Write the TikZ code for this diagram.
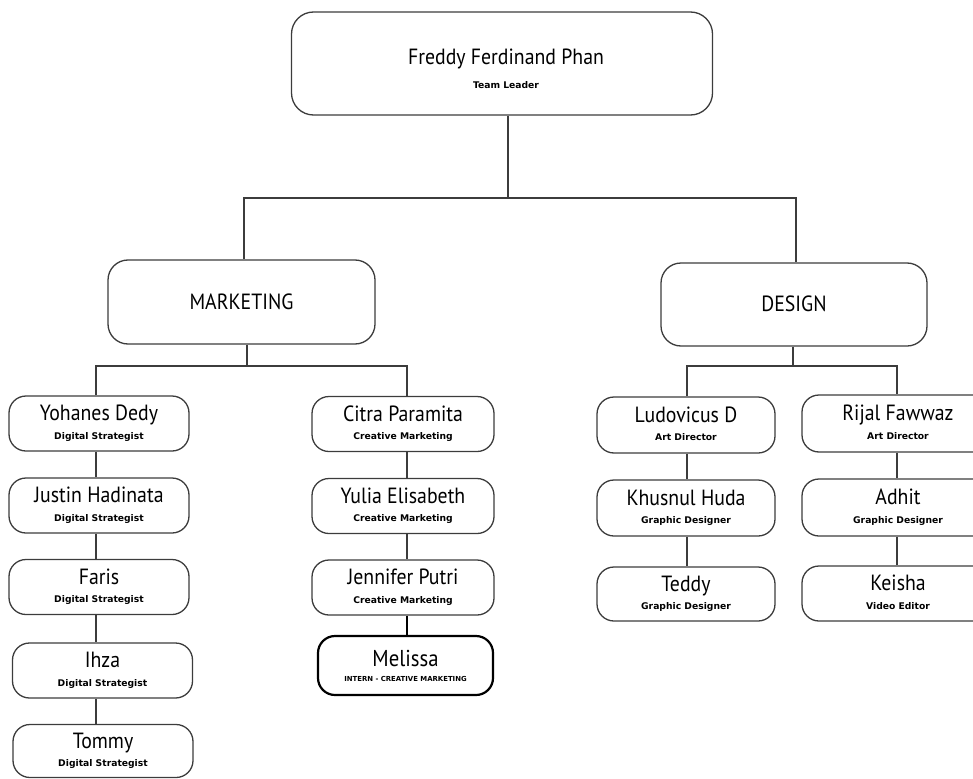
\documentclass[tikz,border=0pt]{standalone}
\usepackage{fontspec}
\setmainfont{PT Sans}[FakeStretch=0.9]
\newfontfamily\rolefont{DejaVu Sans}
\definecolor{linegray}{HTML}{3C3C3C}
\newcommand{\nm}[2][22]{{\fontsize{#1}{#1}\selectfont #2}}
\newcommand{\rl}[2][9.2]{{\rolefont\fontsize{#1}{#1}\selectfont\bfseries #2}}
\newcommand{\hst}[1]{\rule{0pt}{#1pt}}
\newcommand{\dst}[1]{\rule[-#1pt]{0pt}{#1pt}}
% person: name, role (small boxes)
\newcommand{\pp}[2]{\hst{16}\nm{#1}\\\rl{#2}\dst{3.5}}
\begin{document}
\begin{tikzpicture}[x=1pt,y=-1pt,
  box/.style={draw=linegray, line width=1.3pt, rounded corners=17pt, align=center,
    inner sep=0pt, font=\fontsize{10}{18.5}\selectfont},
  pbox/.style={box, minimum width=180pt, minimum height=55pt},
  conn/.style={draw=linegray, line width=1.3pt}]
\useasboundingbox (0,0) rectangle (973,778);
\clip (0,0) rectangle (973,778);
% top
\node[box, minimum width=421pt, minimum height=103pt, rounded corners=22pt,
  font=\fontsize{10}{23.3}\selectfont] (top) at (502,63.5)
  {\hst{29.8}\hspace*{8pt}\nm{Freddy Ferdinand Phan}\\\hspace*{8pt}\rl{Team Leader}\dst{3.5}};
% departments
\node[box, minimum width=267pt, minimum height=84pt, rounded corners=20pt] (mkt) at (241.5,302) {\nm{MARKETING}};
\node[box, minimum width=266pt, minimum height=83pt, rounded corners=20pt] (des) at (794,304.5) {\raisebox{2.5pt}{\nm{DESIGN}}};
% marketing left column
\node[pbox] (yoh) at (99,423.5) {\pp{Yohanes Dedy}{Digital Strategist}};
\node[pbox] (jus) at (99,505.5) {\pp{Justin Hadinata}{Digital Strategist}};
\node[pbox] (far) at (99,587) {\pp{Faris}{Digital Strategist}};
\node[pbox] (ihz) at (102.5,670.5) {\pp{Ihza}{Digital Strategist}};
\node[pbox, minimum height=53pt] (tom) at (103,751) {\pp{Tommy}{Digital Strategist}};
% marketing right column
\node[pbox, minimum width=182pt] (cit) at (403,424) {\pp{Citra Paramita}{Creative Marketing}};
\node[pbox, minimum width=182pt] (yul) at (403,506) {\pp{Yulia Elisabeth}{Creative Marketing}};
\node[pbox, minimum width=182pt] (jen) at (403,587.5) {\pp{Jennifer Putri}{Creative Marketing}};
\node[box, draw=black, line width=2.2pt, minimum width=175pt, minimum height=59pt,
  font=\fontsize{10}{15}\selectfont] (mel) at (405.5,665.5)
  {\hst{19}\nm[23]{Melissa}\\\rl[6.9]{INTERN - CREATIVE MARKETING}\dst{3}};
% design columns
\node[pbox, minimum width=178pt, minimum height=56pt] (lud) at (686,425) {\pp{Ludovicus D}{Art Director}};
\node[pbox, minimum width=178pt, minimum height=56pt] (khu) at (686,508) {\pp{Khusnul Huda}{Graphic Designer}};
\node[pbox, minimum width=178pt, minimum height=54pt] (ted) at (686,594) {\pp{Teddy}{Graphic Designer}};
\node[pbox, minimum width=192pt, minimum height=57pt] (rij) at (898,423.5) {\pp{Rijal Fawwaz}{Art Director}};
\node[pbox, minimum width=192pt, minimum height=57pt] (adh) at (898,507.5) {\pp{Adhit}{Graphic Designer}};
\node[pbox, minimum width=192pt, minimum height=55pt] (kei) at (898,593.5) {\pp{Keisha}{Video Editor}};
% junction coordinates
\coordinate (j0) at (508,198);
\coordinate (jm) at (244,198);
\coordinate (jd) at (796,198);
\coordinate (mb) at (247,366);
\coordinate (ml) at (96,366);
\coordinate (mr) at (407,366);
\coordinate (db) at (793,366);
\coordinate (dl) at (687,366);
\coordinate (dr) at (897,366);
% connectors
\draw[conn] (top.south -| j0) -- (j0);
\draw[conn] (mkt.north -| jm) -- (jm) -- (jd) -- (des.north -| jd);
\draw[conn] (mkt.south -| mb) -- (mb);
\draw[conn] (yoh.north -| ml) -- (ml) -- (mr) -- (cit.north -| mr);
\draw[conn] (des.south -| db) -- (db);
\draw[conn] (lud.north -| dl) -- (dl) -- (dr) -- (rij.north -| dr);
\draw[conn] (yoh.south -| ml) -- (jus.north -| ml);
\draw[conn] (jus.south -| ml) -- (far.north -| ml);
\draw[conn] (far.south -| ml) -- (ihz.north -| ml);
\draw[conn] (ihz.south -| ml) -- (tom.north -| ml);
\draw[conn] (cit.south -| mr) -- (yul.north -| mr);
\draw[conn] (yul.south -| mr) -- (jen.north -| mr);
\draw[conn, line width=2pt, draw=black] (jen.south -| mr) -- (mel.north -| mr);
\draw[conn] (lud.south -| dl) -- (khu.north -| dl);
\draw[conn] (khu.south -| dl) -- (ted.north -| dl);
\draw[conn] (rij.south -| dr) -- (adh.north -| dr);
\draw[conn] (adh.south -| dr) -- (kei.north -| dr);
\end{tikzpicture}
\end{document}
